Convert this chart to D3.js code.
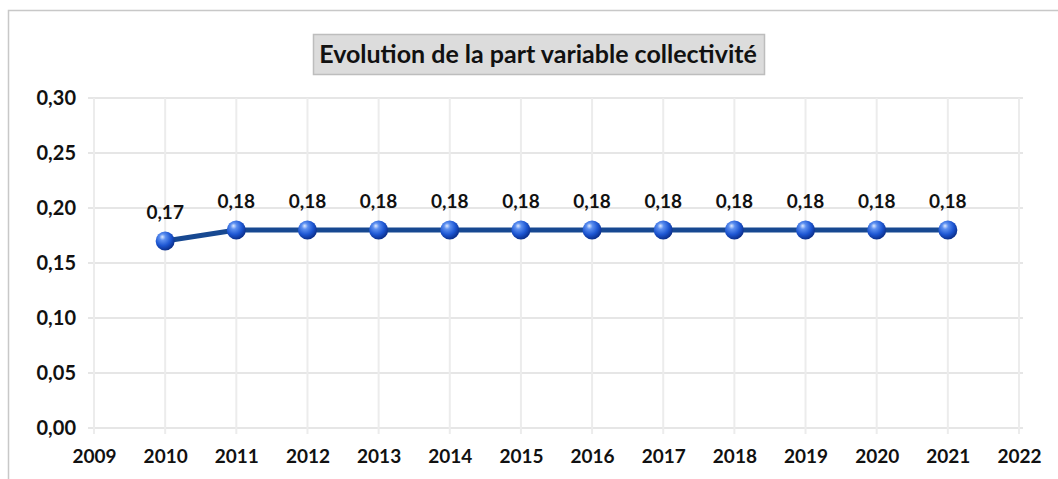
<!DOCTYPE html>
<html><head><meta charset="utf-8">
<script src="https://cdn.jsdelivr.net/npm/d3@7"></script>
<style>
html,body{margin:0;padding:0;background:#fff;}
svg{display:block;}
text{font-family:Lato,"Open Sans",sans-serif;font-weight:bold;fill:#111;}
</style></head><body>
<svg id="c" width="1058" height="479"></svg>
<script>
const title = "Evolution de la part variable collectivité";
const years = [2010,2011,2012,2013,2014,2015,2016,2017,2018,2019,2020,2021];
const values = [0.17,0.18,0.18,0.18,0.18,0.18,0.18,0.18,0.18,0.18,0.18,0.18];
const xTicks = [2009,2010,2011,2012,2013,2014,2015,2016,2017,2018,2019,2020,2021,2022];
const yTicks = [0,0.05,0.10,0.15,0.20,0.25,0.30];

const svg = d3.select("#c");
const fmt = v => d3.format(".2f")(v).replace(".", ",");

// chart frame
svg.append("rect").attr("x",8.5).attr("y",10.5).attr("width",1070).attr("height",500)
  .attr("fill","#fff").attr("stroke","#c8c8c8").attr("stroke-width",1.5);

const x = d3.scaleLinear().domain([2009,2022]).range([94,1019]);
const y = d3.scaleLinear().domain([0,0.30]).range([428,98]);

// gridlines
const g = svg.append("g");
g.selectAll(".hg").data(yTicks).join("line")
  .attr("x1",x(2009)-6).attr("x2",x(2022)+4)
  .attr("y1",d=>y(d)).attr("y2",d=>y(d))
  .attr("stroke","#e6e6e6").attr("stroke-width",2);
g.selectAll(".vg").data(xTicks).join("line")
  .attr("x1",d=>x(d)).attr("x2",d=>x(d))
  .attr("y1",y(0.30)).attr("y2",y(0)+6)
  .attr("stroke","#ececec").attr("stroke-width",2);

// axes labels via d3 axes
const yAxis = svg.append("g").attr("transform",`translate(${x(2009)},0)`)
  .call(d3.axisLeft(y).tickValues(yTicks).tickFormat(fmt).tickSize(0).tickPadding(18));
yAxis.select(".domain").remove();
yAxis.selectAll("text").style("font-size","20px").attr("fill","#0a0a0a");

const xAxis = svg.append("g").attr("transform",`translate(0,${y(0)})`)
  .call(d3.axisBottom(x).tickValues(xTicks).tickFormat(d3.format("d")).tickSize(0).tickPadding(22));
xAxis.select(".domain").remove();
xAxis.selectAll("text").style("font-size","19px").attr("fill","#0a0a0a");

// title box
const tg = svg.append("g");
tg.append("rect").attr("x",313.5).attr("y",34.5).attr("width",451).attr("height",40)
  .attr("fill","#dcdcdc").attr("stroke","#bdbdbd").attr("stroke-width",1.5);
tg.append("text").attr("x",538).attr("y",63).attr("text-anchor","middle")
  .style("font-size","25px").attr("fill","#0a0a0a").text(title);

// gradient for spheres
const defs = svg.append("defs");
const rg = defs.append("radialGradient").attr("id","sph").attr("cx","40%").attr("cy","35%").attr("r","65%").attr("fx","35%").attr("fy","28%");
rg.append("stop").attr("offset","0%").attr("stop-color","#dfeaff");
rg.append("stop").attr("offset","25%").attr("stop-color","#5c8ff0");
rg.append("stop").attr("offset","65%").attr("stop-color","#1d56d2");
rg.append("stop").attr("offset","100%").attr("stop-color","#0b2f8c");

const data = years.map((yr,i)=>({yr, v: values[i]}));
svg.append("path").datum(data)
  .attr("d", d3.line().x(d=>x(d.yr)).y(d=>y(d.v)))
  .attr("fill","none").attr("stroke","#174891").attr("stroke-width",5).attr("stroke-linejoin","round");

svg.selectAll(".pt").data(data).join("circle")
  .attr("cx",d=>x(d.yr)).attr("cy",d=>y(d.v)).attr("r",9.5)
  .attr("fill","url(#sph)");

svg.selectAll(".lbl").data(data).join("text")
  .attr("x",d=>x(d.yr)).attr("y",d=>y(d.v)-22).attr("text-anchor","middle")
  .style("font-size","19px").attr("fill","#0a0a0a").text(d=>fmt(d.v));
</script>
</body></html>
